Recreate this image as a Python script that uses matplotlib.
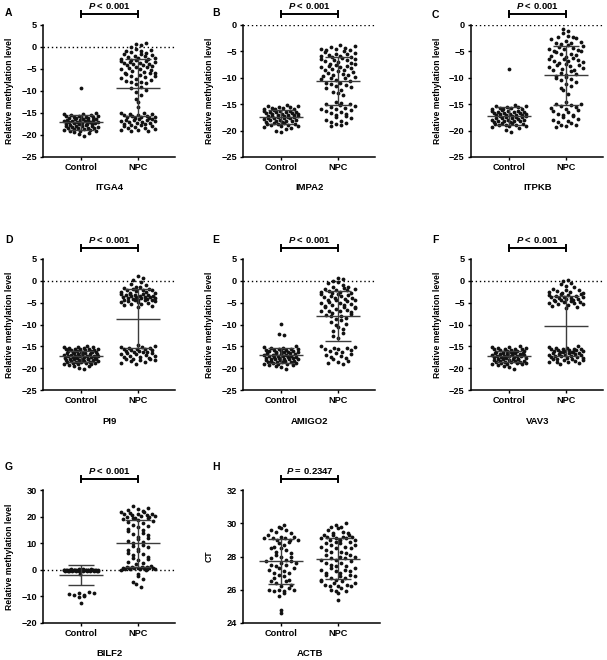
import matplotlib
matplotlib.use("Agg")
import matplotlib.pyplot as plt
import numpy as np

plt.rcParams["font.family"] = ["Liberation Sans", "DejaVu Sans"]
plt.rcParams["font.weight"] = "bold"
plt.rcParams["mathtext.fontset"] = "custom"
plt.rcParams["mathtext.bfit"] = "Liberation Sans:italic:bold"
plt.rcParams["mathtext.it"] = "Liberation Sans:italic:bold"

GROUPS = ["Control", "NPC"]
LETTERS = ["A", "B", "C", "D", "E", "F", "G", "H"]
GENES = ["ITGA4", "IMPA2", "ITPKB", "PI9", "AMIGO2", "VAV3", "BILF2", "ACTB"]
P_TEXT = ["< 0.001"] * 7 + ["= 0.2347"]
Y_LABELS = ["Relative methylation level"] * 7 + ["CT"]

# values (one dot each)
A_CONTROL = [-9.3, -15.0, -15.2, -15.3, -15.5, -15.6, -15.6, -15.8, -15.9, -16.0, -16.0, -16.1,
             -16.2, -16.3, -16.4, -16.4, -16.5, -16.6, -16.7, -16.8, -16.9, -17.0, -17.0, -17.1,
             -17.1, -17.2, -17.3, -17.4, -17.5, -17.5, -17.6, -17.7, -17.8, -17.9, -18.0, -18.0,
             -18.1, -18.2, -18.3, -18.4, -18.5, -18.6, -18.7, -18.8, -18.9, -19.0, -19.1, -19.3,
             -19.5, -19.8, -20.2, -15.4, -16.2, -16.8, -17.3, -17.9, -18.4, -19.2, -15.7, -16.6]
A_NPC = [0.9, 0.6, 0.4, 0.1, -0.4, -0.7, -1.0, -1.2, -1.5, -1.6, -1.9, -2.1, -2.2, -2.4, -2.6,
         -2.7, -2.9, -3.0, -3.1, -3.3, -3.4, -3.6, -3.7, -3.9, -4.1, -4.2, -4.4, -4.6, -4.8,
         -4.9, -5.1, -5.3, -5.5, -5.7, -5.8, -6.0, -6.1, -6.3, -6.5, -6.8, -7.0, -7.2, -7.5,
         -7.7, -8.0, -8.2, -8.5, -2.0, -3.2, -4.5, -5.9, -1.4, -2.8, -6.6, -3.8, -7.9, -0.9,
         -9.0, -9.4, -9.8, -10.3, -11.0, -11.8, -12.5, -13.6,
         -14.9, -15.1, -15.3, -15.4, -15.6, -15.7, -15.9, -16.0, -16.1, -16.3, -16.4, -16.6,
         -16.7, -16.9, -17.0, -17.2, -17.3, -17.5, -17.7, -17.8, -18.0, -18.2, -18.4, -18.6,
         -18.8, -19.0, -15.5, -16.2, -17.4, -18.3, -16.8, -15.8, -19.1, -18.9, -17.9, -16.5,
         -15.2, -17.1]

B_CONTROL = [-15.1, -15.3, -15.4, -15.6, -15.7, -15.8, -16.0, -16.0, -16.1, -16.2, -16.3, -16.4,
             -16.5, -16.5, -16.6, -16.7, -16.8, -16.9, -17.0, -17.0, -17.1, -17.2, -17.3, -17.3,
             -17.4, -17.5, -17.6, -17.6, -17.7, -17.8, -17.9, -18.0, -18.0, -18.1, -18.2, -18.3,
             -18.4, -18.5, -18.6, -18.7, -18.8, -18.9, -19.0, -19.1, -19.3, -19.5, -19.7, -20.0,
             -20.3, -15.5, -16.2, -16.8, -17.2, -17.7, -18.2, -18.8, -15.9, -17.5, -16.4, -19.2]
B_NPC = [-3.7, -3.9, -4.1, -4.3, -4.5, -4.6, -4.8, -5.0, -5.1, -5.3, -5.4, -5.6, -5.8, -5.9,
         -6.1, -6.2, -6.4, -6.6, -6.7, -6.9, -7.1, -7.2, -7.4, -7.6, -7.7, -7.9, -8.1, -8.3,
         -8.5, -8.6, -8.8, -9.0, -9.2, -9.4, -9.5, -9.7, -9.9, -10.1, -10.3, -10.5, -10.7,
         -10.9, -11.1, -11.3, -11.5, -11.8, -12.0, -12.3, -12.6, -12.9, -13.3, -4.7, -5.5,
         -6.5, -7.3, -8.0, -8.9, -10.0, -11.0, -6.0, -7.8,
         -14.5, -14.7, -14.9, -15.1, -15.3, -15.5, -15.7, -15.9, -16.1, -16.3, -16.5, -16.7,
         -16.9, -17.1, -17.3, -17.5, -17.7, -17.9, -18.1, -18.3, -18.5, -18.7, -18.9, -19.2,
         -15.0, -16.0]

C_CONTROL = [-8.3, -15.2, -15.3, -15.5, -15.6, -15.8, -15.9, -16.0, -16.1, -16.2, -16.3, -16.4,
             -16.5, -16.6, -16.6, -16.7, -16.8, -16.9, -17.0, -17.1, -17.1, -17.2, -17.3, -17.4,
             -17.5, -17.5, -17.6, -17.7, -17.8, -17.9, -18.0, -18.1, -18.1, -18.2, -18.3, -18.4,
             -18.5, -18.6, -18.7, -18.8, -18.9, -19.0, -19.2, -19.4, -19.6, -19.9, -20.3, -15.4,
             -16.0, -16.5, -17.0, -17.6, -18.2, -18.9, -15.7, -17.3, -16.3, -19.1, -17.9, -16.9]
C_NPC = [-0.8, -1.2, -1.6, -2.0, -2.2, -2.5, -2.7, -3.0, -3.2, -3.4, -3.6, -3.8, -4.0, -4.2,
         -4.4, -4.6, -4.8, -5.0, -5.2, -5.4, -5.6, -5.8, -6.0, -6.2, -6.4, -6.6, -6.8, -7.0,
         -7.2, -7.4, -7.6, -7.8, -8.0, -8.2, -8.4, -8.6, -8.8, -9.0, -9.2, -9.4, -9.6, -9.9,
         -10.2, -10.5, -10.8, -11.1, -11.5, -11.9, -12.4, -13.0, -3.5, -4.5, -5.5, -6.5, -7.5,
         -8.5, -2.3, -6.9, -4.9, -10.0,
         -14.6, -14.9, -15.1, -15.3, -15.6, -15.8, -16.0, -16.3, -16.5, -16.8, -17.0, -17.3,
         -17.5, -17.8, -18.0, -18.3, -18.6, -18.9, -19.2, -19.3, -15.0, -16.1, -17.1, -18.1,
         -19.0]

D_CONTROL = [-15.0, -15.1, -15.2, -15.3, -15.4, -15.5, -15.6, -15.7, -15.8, -15.9, -16.0, -16.1,
             -16.2, -16.3, -16.4, -16.5, -16.6, -16.7, -16.8, -16.9, -17.0, -17.1, -17.2, -17.3,
             -17.4, -17.5, -17.6, -17.7, -17.8, -17.9, -18.0, -18.1, -18.2, -18.3, -18.4, -18.5,
             -18.6, -18.7, -18.8, -18.9, -19.0, -19.1, -19.2, -19.4, -19.6, -19.9, -20.3, -15.5,
             -15.9, -16.3, -16.6, -16.9, -17.2, -17.4, -17.6, -17.9, -18.2, -18.5, -18.8, -15.2,
             -16.1, -16.8, -17.3, -17.8, -18.4, -19.0, -15.7, -16.4, -17.1, -18.0]
D_NPC = [1.1, 0.6, 0.2, -0.3, -0.7, -1.0, -1.3, -1.5, -1.7, -1.9, -2.1, -2.2, -2.4, -2.5, -2.7,
         -2.8, -3.0, -3.1, -3.2, -3.3, -3.4, -3.5, -3.6, -3.7, -3.8, -3.9, -4.0, -4.1, -4.2,
         -4.3, -4.4, -4.5, -4.6, -4.7, -4.8, -4.9, -5.0, -5.2, -5.4, -5.6, -5.8, -6.0, -3.0,
         -3.5, -4.0, -2.0, -2.5, -4.5, -1.8, -3.3, -3.8, -4.3,
         -14.8, -15.0, -15.1, -15.2, -15.4, -15.5, -15.6, -15.8, -15.9, -16.0, -16.2, -16.3,
         -16.5, -16.6, -16.8, -17.0, -17.1, -17.3, -17.5, -17.6, -17.8, -18.0, -18.2, -18.4,
         -18.6, -18.8, -19.0, -15.3, -16.1, -16.7, -17.4, -18.1, -15.7, -16.4, -17.9]

E_CONTROL = [-9.9, -12.2, -12.4, -15.0, -15.2, -15.3, -15.5, -15.6, -15.8, -15.9, -16.0, -16.1,
             -16.2, -16.3, -16.4, -16.5, -16.6, -16.7, -16.8, -16.9, -17.0, -17.1, -17.2, -17.3,
             -17.4, -17.5, -17.6, -17.7, -17.8, -17.9, -18.0, -18.1, -18.2, -18.3, -18.4, -18.5,
             -18.6, -18.7, -18.8, -18.9, -19.0, -19.1, -19.3, -19.5, -19.8, -20.3, -15.4, -15.9,
             -16.4, -16.9, -17.4, -17.9, -18.4, -19.0, -15.7, -16.6, -17.2, -18.0, -18.7, -16.1,
             -17.6, -19.2]
E_NPC = [0.7, 0.4, 0.0, -0.5, -1.0, -1.3, -1.6, -1.9, -2.1, -2.3, -2.5, -2.7, -2.9, -3.1, -3.3,
         -3.5, -3.7, -3.9, -4.1, -4.3, -4.5, -4.7, -4.9, -5.1, -5.3, -5.5, -5.7, -5.9, -6.1,
         -6.3, -6.5, -6.7, -6.9, -7.1, -7.3, -7.5, -7.8, -8.1, -8.4, -8.7, -9.0, -9.4, -9.8,
         -10.2, -10.6, -11.0, -11.5, -12.0, -12.6, -13.2, -2.0, -3.0, -4.0, -5.0, -6.0, -7.0,
         -2.6, -4.4, -1.4, -8.0, -1.8, -3.4, -5.6, -6.8, -0.3,
         -14.9, -15.1, -15.3, -15.5, -15.7, -15.9, -16.2, -16.5, -16.8, -17.1, -17.4, -17.7,
         -18.0, -18.3, -18.6, -18.9, -19.1, -15.4, -16.0, -17.0]

F_CONTROL = [-15.0, -15.1, -15.3, -15.4, -15.5, -15.6, -15.8, -15.9, -16.0, -16.1, -16.2, -16.3,
             -16.4, -16.5, -16.6, -16.7, -16.8, -16.9, -17.0, -17.1, -17.2, -17.3, -17.4, -17.5,
             -17.6, -17.7, -17.8, -17.9, -18.0, -18.1, -18.2, -18.3, -18.4, -18.5, -18.6, -18.7,
             -18.8, -18.9, -19.0, -19.1, -19.3, -19.5, -19.8, -20.3, -15.2, -15.7, -16.3, -16.8,
             -17.3, -17.8, -18.3, -18.8, -16.0, -17.0, -18.0, -19.0, -15.5, -16.5, -17.5, -18.5,
             -17.1, -16.6]
F_NPC = [0.3, 0.0, -0.4, -0.8, -1.2, -1.5, -1.8, -2.0, -2.2, -2.4, -2.6, -2.8, -3.0, -3.1,
         -3.2, -3.4, -3.5, -3.6, -3.8, -3.9, -4.0, -4.2, -4.3, -4.4, -4.6, -4.7, -4.8, -5.0,
         -5.1, -5.3, -5.5, -5.7, -5.9, -6.2, -2.9, -3.3, -3.7, -4.1, -4.5, -4.9, -2.5, -5.2,
         -15.0, -15.2, -15.3, -15.5, -15.6, -15.7, -15.9, -16.0, -16.1, -16.2, -16.4, -16.5,
         -16.6, -16.7, -16.9, -17.0, -17.1, -17.3, -17.4, -17.6, -17.7, -17.9, -18.0, -18.2,
         -18.3, -18.5, -18.7, -18.9, -19.0, -15.4, -15.8, -16.3, -16.8, -17.2, -17.5, -18.1,
         -18.6, -15.6, -16.0, -16.6, -17.0, -15.9, -16.4, -17.8]

G_CONTROL = [0.3, 0.2, 0.2, 0.1, 0.1, 0.1, 0.0, 0.0, 0.0, 0.0, 0.0, -0.1, -0.1, -0.1, -0.1,
             -0.1, -0.2, -0.2, -0.2, -0.2, -0.3, -0.3, -0.3, -0.4, -0.4, -0.4, -0.5, -0.5,
             -0.6, -0.6, 0.0, -0.1, -0.2, -0.3, 0.1, 0.0, -0.2, -0.4, 0.2, -0.1, -1.5,
             -8.4, -8.7, -8.9, -9.1, -9.3, -9.5, -9.8, -10.1, -12.5]
G_NPC = [0.0, 0.2, 0.3, 0.4, 0.5, 0.6, 0.7, 0.8, 0.9, 1.0, 1.2, 1.4, 0.1, 0.5, 0.8, 1.1, 0.3,
         0.6, -1.5, -2.5, -3.5, -4.5, -5.5, -6.5, 2.0, 2.5, 3.0, 3.5, 4.0, 4.5, 5.0, 5.5, 6.0,
         6.5, 7.0, 7.5, 8.0, 8.5, 9.0, 9.5, 10.0, 10.5, 11.0, 11.5, 12.0, 12.5, 13.0, 13.5,
         14.0, 14.5, 15.0, 15.5, 16.0, 16.5, 17.0, 17.5, 18.0, 18.5, 19.0, 19.3, 19.6, 20.0,
         20.2, 20.5, 20.8, 21.0, 21.3, 21.6, 22.0, 22.3, 22.7, 23.2, 23.8, 19.8, 20.4, 21.8,
         18.8, 19.5, 20.6, 21.1]

H_CONTROL = [24.6, 24.8, 25.6, 25.8, 25.9, 26.0, 26.0, 26.1, 26.2, 26.3, 26.4, 26.5, 26.6,
             26.7, 26.8, 26.9, 27.0, 27.1, 27.2, 27.3, 27.4, 27.5, 27.6, 27.6, 27.7, 27.8,
             27.9, 28.0, 28.1, 28.2, 28.3, 28.4, 28.5, 28.6, 28.7, 28.8, 28.9, 29.0, 29.0,
             29.1, 29.1, 29.2, 29.2, 29.3, 29.4, 29.5, 29.6, 29.7, 29.8, 29.9, 26.0, 27.0,
             27.5, 28.0, 29.0, 26.5, 27.3, 28.5, 29.1, 25.9, 29.6, 27.7]
H_NPC = [25.4, 25.8, 25.9, 26.0, 26.1, 26.2, 26.2, 26.3, 26.4, 26.5, 26.5, 26.6, 26.7, 26.7,
         26.8, 26.9, 27.0, 27.0, 27.1, 27.2, 27.3, 27.3, 27.4, 27.5, 27.6, 27.7, 27.8, 27.9,
         28.0, 28.0, 28.1, 28.2, 28.3, 28.4, 28.5, 28.5, 28.6, 28.7, 28.8, 28.9, 29.0, 29.0,
         29.1, 29.1, 29.2, 29.2, 29.3, 29.3, 29.4, 29.5, 29.6, 29.7, 29.8, 29.9, 30.0, 26.3,
         26.8, 27.2, 27.6, 28.1, 28.6, 29.0, 29.2, 28.9, 27.8, 26.9, 26.2, 26.6, 27.4, 28.3,
         28.8, 29.1, 29.4, 25.9, 26.4, 27.1, 27.9, 28.7, 29.3, 29.8]

CONTROLS = [A_CONTROL, B_CONTROL, C_CONTROL, D_CONTROL, E_CONTROL, F_CONTROL, G_CONTROL, H_CONTROL]
NPCS = [A_NPC, B_NPC, C_NPC, D_NPC, E_NPC, F_NPC, G_NPC, H_NPC]

YLIMS = [(-25, 5), (-25, 0), (-25, 0), (-25, 5), (-25, 5), (-25, 5), (-20, 30), (24, 32)]
YSTEPS = [5, 5, 5, 5, 5, 5, 10, 2]

# axes boxes in pixels: left, top, right, bottom
BOXES = [(43, 25, 175, 157), (243, 25, 375, 157), (471, 25, 603, 157),
         (43, 259, 175, 390), (243, 259, 375, 390), (471, 259, 603, 390),
         (43, 490, 175, 623), (243, 490, 380, 623)]
LETTER_POS = [(5, 13), (212, 13), (432, 15), (5, 240), (212, 240), (432, 240),
              (5, 467), (212, 467)]

FW, FH = 607, 660
CAT_PX = 57.0
ROW_PX = 6.5
DOT_PX = 5.0
MAX_HALF = 17.0


def spread(vals, ppu):
    # Prism-like scatter: values binned into rows, each row spread sideways
    vals = np.asarray(vals, dtype=float)
    rows = np.floor(vals * ppu / ROW_PX)
    off = np.zeros(len(vals))
    for r in np.unique(rows):
        idx = np.where(rows == r)[0]
        idx = idx[np.argsort(vals[idx])]
        n = len(idx)
        if n == 1:
            continue
        step = min(DOT_PX, 2 * MAX_HALF / (n - 1))
        slots = (np.arange(n) - (n - 1) / 2) * step
        perm = np.argsort((np.arange(n) * 0.618 + r * 0.37) % 1)
        off[idx] = slots[perm]
    return off / CAT_PX


fig = plt.figure(figsize=(FW / 100, FH / 100), dpi=100)

for i in range(8):
    l, t, r, b = BOXES[i]
    ax = fig.add_axes([l / FW, 1 - b / FH, (r - l) / FW, (b - t) / FH])
    y0, y1 = YLIMS[i]
    ppu = (b - t) / (y1 - y0)

    for k, vals in enumerate([CONTROLS[i], NPCS[i]]):
        vals = np.asarray(vals)
        xs = k + spread(vals, ppu)
        ax.scatter(xs, vals, s=7.5, c="#111111", linewidths=0, zorder=2, clip_on=False)
        m = vals.mean()
        sd = vals.std(ddof=1)
        ax.hlines(m, k - 0.38, k + 0.38, color="#3c3c3c", lw=1.0, zorder=3)
        ax.vlines(k, m - sd, m + sd, color="#3c3c3c", lw=1.0, zorder=3)
        ax.hlines([m - sd, m + sd], k - 0.22, k + 0.22, color="#3c3c3c", lw=1.0, zorder=3)

    if i < 7:
        ax.axhline(0, color="k", lw=1.0, ls=(0, (1, 2)), zorder=1)

    left = -38 / CAT_PX
    ax.set_xlim(left, left + (r - l) / CAT_PX)
    ax.set_ylim(y0, y1)
    ax.set_yticks(np.arange(y0, y1 + 0.01, YSTEPS[i]))
    ax.set_xticks([0, 1])
    ax.set_xticklabels(GROUPS)
    for s in ["top", "right"]:
        ax.spines[s].set_visible(False)
    for s in ["left", "bottom"]:
        ax.spines[s].set_linewidth(1.1)
    ax.tick_params(direction="out", length=2.5, width=1.0, labelsize=6.6, pad=2)
    ax.set_ylabel(Y_LABELS[i], fontsize=6.2, fontweight="bold")
    ax.yaxis.set_label_coords(-29 / (r - l), 0.5)

    h = b - t
    tr = ax.get_xaxis_transform()
    ax.text(0.5, -31 / h, GENES[i], transform=tr,
            ha="center", va="center", fontsize=6.8, fontweight="bold")

    # significance bracket
    yb = 1 + 11 / h
    ax.plot([0, 1], [yb, yb], color="k", lw=1.4, transform=tr, clip_on=False)
    for xe in [0, 1]:
        ax.plot([xe, xe], [yb - 3 / h, yb + 3 / h], color="k", lw=1.4, transform=tr,
                clip_on=False)
    ax.text(0.5, 1 + 19 / h, r"$\mathit{P}$ " + P_TEXT[i], transform=tr,
            ha="center", va="center", fontsize=6.8, fontweight="bold")

    lx, ly = LETTER_POS[i]
    fig.text(lx / FW, 1 - ly / FH, LETTERS[i], fontsize=7.5, fontweight="bold",
             ha="left", va="center")

fig.savefig("out.png", dpi=100)
